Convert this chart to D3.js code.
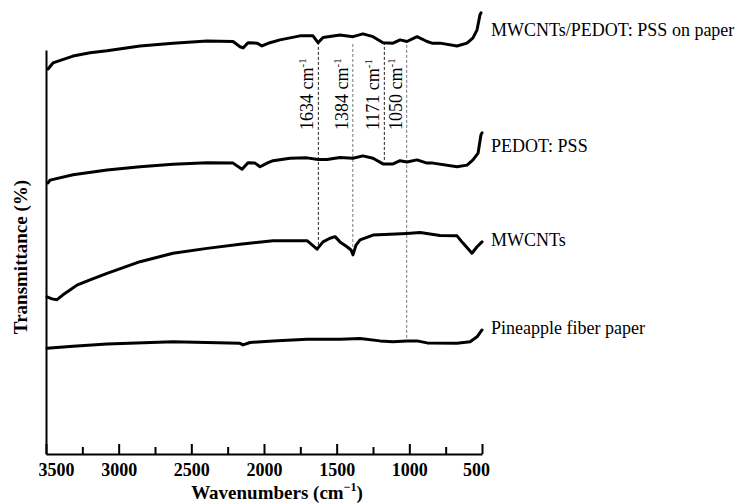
<!DOCTYPE html>
<html>
<head>
<meta charset="utf-8">
<script src="https://cdn.jsdelivr.net/npm/d3@7"></script>
<style>
body { margin: 0; background: #fff; }
text { font-family: "Liberation Serif", "Times New Roman", serif; }
</style>
</head>
<body>
<div id="chart"></div>
<script>
const width = 745;
const height = 504;

// axis ticks (wavenumbers, cm-1)
const majorTicks = [3500, 3000, 2500, 2000, 1500, 1000, 500];
const minorTicks = [3250, 2750, 2250, 1750, 1250, 750];

// series names, top to bottom
const seriesNames = ['MWCNTs/PEDOT: PSS on paper', 'PEDOT: PSS', 'MWCNTs', 'Pineapple fiber paper'];

// spectra: [wavenumber, transmittance (offset, arbitrary units)]
const compositeData = [
    [3486, 95.3], [3452, 96.8], [3314, 98.5], [3197, 99.3], [3080, 99.8], [2853, 101.0],
    [2626, 101.7], [2392, 102.2], [2213, 102.1], [2165, 100.8], [2144, 100.5], [2110, 101.8],
    [2048, 101.7], [2014, 101.0], [1959, 101.8], [1890, 102.5], [1752, 103.5], [1663, 103.5],
    [1628, 101.8], [1594, 103.1], [1477, 103.7], [1388, 103.3], [1319, 104.0], [1250, 103.3],
    [1181, 101.8], [1112, 101.7], [1064, 102.5], [1016, 102.1], [947, 103.3], [878, 102.1],
    [844, 101.7], [789, 101.7], [672, 101.0], [603, 101.7], [562, 103.0], [534, 105.0],
    [514, 108.7], [507, 109.2]
];
const pedotData = [
    [3486, 67.1], [3472, 67.8], [3314, 69.1], [3080, 70.3], [2853, 71.1], [2626, 71.7],
    [2392, 72.1], [2213, 72.0], [2151, 70.5], [2110, 72.1], [2062, 72.0], [2027, 71.1],
    [1979, 72.0], [1938, 72.6], [1821, 73.2], [1704, 73.3], [1628, 72.9], [1566, 72.9],
    [1477, 73.4], [1388, 73.2], [1319, 73.8], [1250, 73.2], [1181, 71.8], [1112, 71.8],
    [1064, 72.6], [1016, 72.3], [947, 72.8], [878, 72.0], [837, 72.0], [672, 71.1],
    [603, 71.5], [562, 72.8], [527, 74.5], [507, 79.0], [500, 79.5]
];
const mwcntData = [
    [3493, 38.9], [3459, 38.4], [3424, 38.2], [3383, 39.4], [3335, 40.6], [3287, 41.8],
    [3197, 43.1], [3080, 44.7], [2853, 47.6], [2626, 49.7], [2392, 50.9], [2165, 51.9],
    [1938, 52.8], [1704, 52.8], [1635, 50.7], [1594, 52.5], [1546, 53.4], [1511, 53.8],
    [1477, 52.5], [1429, 51.3], [1401, 50.5], [1388, 49.3], [1367, 51.7], [1339, 53.0],
    [1250, 54.2], [1016, 54.6], [926, 54.8], [789, 54.1], [672, 54.0], [631, 52.2],
    [569, 49.7], [534, 51.3], [500, 52.5]
];
const paperData = [
    [3493, 26.2], [3314, 26.7], [3080, 27.2], [2626, 27.8], [2165, 27.4], [2144, 27.0],
    [2096, 27.6], [1938, 28.0], [1704, 28.4], [1477, 28.4], [1339, 28.6], [1202, 28.0],
    [1112, 27.8], [1016, 28.0], [947, 28.0], [878, 27.5], [672, 27.4], [582, 27.8],
    [534, 29.0], [500, 30.7]
];

// marked peaks: label, position as drawn, dashed line top/bottom (transmittance units)
const peakLabels = ['1634', '1384', '1171', '1050'];
const peakPos = [1626, 1389, 1172, 1018];
const peakTop = [102.0, 101.5, 102.0, 102.5];
const peakBottom = [51.0, 51.2, 72.8, 28.7];

const svg = d3.select('#chart')
    .append('svg')
    .attr('width', width)
    .attr('height', height);

const x = d3.scaleLinear().domain([3500, 500]).range([46, 482]);
const y = d3.scaleLinear().domain([0, 100]).range([454, 50]);

// minor ticks
svg.append('g')
    .attr('transform', 'translate(0,454)')
    .call(d3.axisBottom(x).tickValues(minorTicks).tickSize(-7).tickFormat(''))
    .call(g => g.select('.domain').remove())
    .call(g => g.selectAll('line').attr('stroke', '#000').attr('stroke-width', 2));

// major ticks + labels
const xAxis = svg.append('g')
    .attr('transform', 'translate(0,454)')
    .call(d3.axisBottom(x).tickValues(majorTicks).tickSizeInner(-10).tickSizeOuter(0)
        .tickPadding(9).tickFormat(d3.format('d')));
xAxis.select('.domain').attr('stroke', '#000').attr('stroke-width', 2);
xAxis.selectAll('line').attr('stroke', '#000').attr('stroke-width', 2);
xAxis.selectAll('text')
    .attr('font-family', '"Liberation Serif", serif')
    .attr('font-size', 18)
    .attr('font-weight', 'bold')
    .attr('fill', '#000')
    .attr('dx', d => d === 3500 ? 10 : (d === 500 ? -6 : 0));

// y axis, no ticks
svg.append('g')
    .attr('transform', 'translate(46,0)')
    .call(d3.axisLeft(y).tickValues([]).tickSizeOuter(0))
    .select('.domain').attr('stroke', '#000').attr('stroke-width', 2);

// dashed peak markers
svg.selectAll('line.peak')
    .data(peakPos)
    .enter()
    .append('line')
    .attr('class', 'peak')
    .attr('x1', d => x(d))
    .attr('x2', d => x(d))
    .attr('y1', (d, i) => y(peakTop[i]))
    .attr('y2', (d, i) => y(peakBottom[i]))
    .attr('stroke', (d, i) => i % 2 ? '#777' : '#222')
    .attr('stroke-width', 1)
    .attr('stroke-dasharray', '3,2');

const peakText = svg.selectAll('text.peak')
    .data(peakPos)
    .enter()
    .append('text')
    .attr('class', 'peak')
    .attr('transform', d => `translate(${x(d) - 5},130) rotate(-90)`)
    .attr('font-size', 18)
    .attr('fill', '#000');
peakText.append('tspan').text((d, i) => peakLabels[i] + ' cm');
peakText.append('tspan').attr('font-size', 11).attr('dy', -7).text('-1');

// spectra
const line = d3.line()
    .x(d => x(d[0]))
    .y(d => y(d[1]));

svg.selectAll('path.spectrum')
    .data([compositeData, pedotData, mwcntData, paperData])
    .enter()
    .append('path')
    .attr('class', 'spectrum')
    .attr('d', line)
    .attr('fill', 'none')
    .attr('stroke', '#000')
    .attr('stroke-width', 3)
    .attr('stroke-linejoin', 'round')
    .attr('stroke-linecap', 'round');

// series labels on the right
const labelBaseline = [36, 152, 246, 334];
svg.selectAll('text.series')
    .data(seriesNames)
    .enter()
    .append('text')
    .attr('class', 'series')
    .attr('x', 491)
    .attr('y', (d, i) => labelBaseline[i])
    .attr('font-size', 18)
    .attr('fill', '#000')
    .text(d => d);

// axis titles
const xTitle = svg.append('text')
    .attr('x', 277)
    .attr('y', 499)
    .attr('text-anchor', 'middle')
    .attr('font-size', 19)
    .attr('font-weight', 'bold');
xTitle.append('tspan').text('Wavenumbers (cm');
xTitle.append('tspan').attr('font-size', 12).attr('dy', -8).text('\u22121');
xTitle.append('tspan').attr('dy', 8).text(')');

svg.append('text')
    .attr('transform', 'translate(27,257) rotate(-90)')
    .attr('text-anchor', 'middle')
    .attr('font-size', 19)
    .attr('font-weight', 'bold')
    .text('Transmittance (%)');
</script>
</body>
</html>
